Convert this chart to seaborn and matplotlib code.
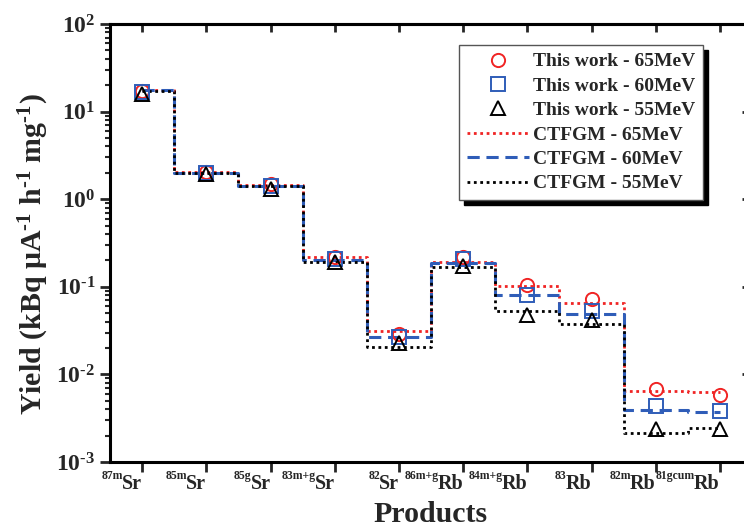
import numpy as np
import pandas as pd
import matplotlib
matplotlib.use("Agg")
import matplotlib.pyplot as plt
import seaborn as sns
import matplotlib.transforms as mtransforms
from matplotlib.ticker import LogLocator, NullFormatter, FuncFormatter

# ---- data ----
mass_labels = ["87m", "85m", "85g", "83m+g", "82", "86m+g", "84m+g", "83", "82m", "81gcum"]
elements = ["Sr", "Sr", "Sr", "Sr", "Sr", "Rb", "Rb", "Rb", "Rb", "Rb"]
exp_65 = [17.0, 2.05, 1.50, 0.220, 0.029, 0.220, 0.105, 0.072, 0.0068, 0.0058]
exp_60 = [16.8, 2.00, 1.42, 0.210, 0.027, 0.205, 0.080, 0.053, 0.0044, 0.0038]
exp_55 = [16.0, 1.95, 1.30, 0.190, 0.023, 0.175, 0.048, 0.042, 0.0024, 0.0024]
ctf_65 = [17.8, 2.02, 1.47, 0.220, 0.0314, 0.190, 0.103, 0.066, 0.0065, 0.0063]
ctf_60 = [17.6, 2.00, 1.43, 0.203, 0.0269, 0.185, 0.081, 0.049, 0.0039, 0.0037]
ctf_55 = [17.4, 1.98, 1.40, 0.190, 0.0206, 0.168, 0.053, 0.038, 0.00214, 0.00245]

pos = np.arange(len(elements))

sns.set_theme(style="ticks")
plt.rcParams["font.family"] = ["Liberation Serif", "DejaVu Serif"]
plt.rcParams["font.weight"] = "bold"
plt.rcParams["mathtext.fontset"] = "custom"
plt.rcParams["mathtext.rm"] = "Liberation Serif:bold"
plt.rcParams["mathtext.it"] = "Liberation Serif:italic:bold"
plt.rcParams["mathtext.bf"] = "Liberation Serif:bold"

W, H = 744, 530
fig = plt.figure(figsize=(W/100, H/100), dpi=100)
ax = fig.add_axes([110/W, 1-462/H, 642/W, 438/H])

red = "#f02424"
blue = "#2f5db8"
black = "#000000"

line_specs = [
    (ctf_65, red, (0, (1, 1.3)), 2.0, "CTFGM - 65MeV"),
    (ctf_60, blue, (0, (4, 2.2)), 2.2, "CTFGM - 60MeV"),
    (ctf_55, black, (0, (1, 1.3)), 2.0, "CTFGM - 55MeV"),
]
line_handles = []
for vals, col, ls, lw, lab in line_specs:
    sns.lineplot(x=pos, y=vals, ax=ax, color=col, linestyle=ls, linewidth=lw,
                 drawstyle="steps-mid", label=lab, legend=False)
    line_handles.append(ax.lines[-1])

mark_specs = [
    (exp_65, red, "o", "This work - 65MeV"),
    (exp_60, blue, "s", "This work - 60MeV"),
    (exp_55, black, "^", "This work - 55MeV"),
]
mark_handles = []
for vals, col, mk, lab in mark_specs:
    sns.lineplot(x=pos, y=vals, ax=ax, color=col, linestyle="none", marker=mk,
                 markersize=9.5, markerfacecolor="none", markeredgecolor=col,
                 markeredgewidth=1.4, label=lab, legend=False)
    mark_handles.append(ax.lines[-1])

ax.set_yscale("log")
ax.set_ylim(1e-3, 1e2)
ax.set_xlim(-0.5, 9.5)
ax.set_xticks(pos)
ax.set_xticklabels(elements, fontsize=14.5, fontweight="bold", ha="right")
shift = mtransforms.ScaledTranslation(7/100, 0, fig.dpi_scale_trans)
for lbl in ax.get_xticklabels():
    lbl.set_transform(lbl.get_transform() + shift)

ax.yaxis.set_major_locator(LogLocator(base=10, numticks=10))
ax.yaxis.set_major_formatter(FuncFormatter(lambda v, p: r"10$^{\text{%d}}$" % int(round(np.log10(v)))))
ax.yaxis.set_minor_locator(LogLocator(base=10, subs=np.arange(2, 10), numticks=20))
ax.yaxis.set_minor_formatter(NullFormatter())
ax.tick_params(axis="y", which="major", labelsize=17, length=7, width=2, direction="out")
ax.tick_params(axis="y", which="minor", length=3.5, width=1.5, direction="out")
ax.tick_params(axis="x", which="major", length=7, width=2, direction="out", pad=1.5)
ax.tick_params(axis="x", which="minor", bottom=False)
for sp in ax.spines.values():
    sp.set_linewidth(2.2)
    sp.set_color("black")

secx = ax.secondary_xaxis("top")
secx.set_xticks(pos)
secx.tick_params(direction="in", length=6, width=2, labeltop=False)
secx.spines["top"].set_linewidth(2.2)
secy = ax.secondary_yaxis("right")
secy.yaxis.set_major_locator(LogLocator(base=10, numticks=10))
secy.yaxis.set_minor_locator(LogLocator(base=10, subs=[], numticks=10))
secy.tick_params(direction="in", length=7, width=2, labelright=False)

ax.set_ylabel(r"Yield (kBq μA$^{\text{-1}}$ h$^{\text{-1}}$ mg$^{\text{-1}}$)",
              fontsize=21.5, fontweight="bold")
ax.yaxis.set_label_coords(-0.092, 0.475)
ax.set_xlabel("Products", fontsize=21.5, fontweight="bold")
ax.xaxis.set_label_coords(0.5, -(522-462)/438)
ax.xaxis.label.set_va("baseline")

leg = ax.legend(handles=mark_handles + line_handles,
                labels=[h.get_label() for h in mark_handles + line_handles],
                loc="upper right", bbox_to_anchor=(0.924, 0.952), borderaxespad=0,
                fancybox=False, shadow={"color": "black", "alpha": 1.0, "ox": 3.5, "oy": -3.5},
                frameon=True, prop={"family": "Liberation Serif", "weight": "bold", "size": 14},
                handlelength=3.2, handletextpad=0.2, labelspacing=0.35, borderpad=0.4)
leg.get_frame().set_edgecolor("#555555")
leg.get_frame().set_linewidth(1.0)
leg.get_frame().set_alpha(1.0)

# superscript mass numbers placed just left-above of each element label
fig.canvas.draw()
renderer = fig.canvas.get_renderer()
for lbl, mass in zip(ax.get_xticklabels(), mass_labels):
    bb = lbl.get_window_extent(renderer)
    base_y = bb.y0 + 0.22 * 14.5 * 100 / 72
    fig.text((bb.x0 + 1.0) / W, (base_y + 10) / H, mass, ha="right", va="baseline",
             fontsize=8.5, fontweight="bold", family="Liberation Serif")

fig.savefig("out.png", dpi=100)
